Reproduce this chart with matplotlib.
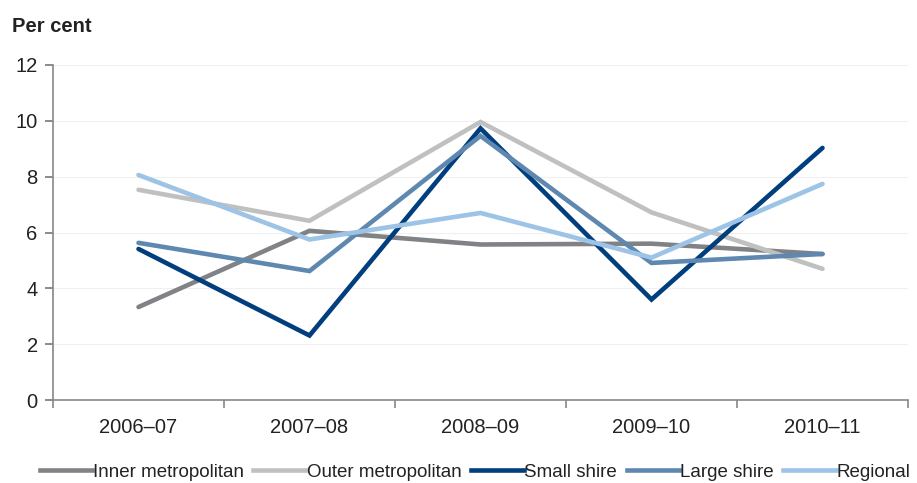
import matplotlib
matplotlib.use("Agg")
import matplotlib.pyplot as plt
from matplotlib.lines import Line2D
import numpy as np

plt.rcParams['font.family'] = ['Liberation Sans', 'DejaVu Sans']

years = ["2006–07", "2007–08", "2008–09", "2009–10", "2010–11"]
inner_metro = [3.33, 6.06, 5.57, 5.60, 5.23]
outer_metro = [7.53, 6.42, 9.96, 6.72, 4.70]
small_shire = [5.41, 2.31, 9.73, 3.60, 9.03]
large_shire = [5.63, 4.62, 9.46, 4.91, 5.23]
regional = [8.06, 5.75, 6.70, 5.10, 7.74]

series = [
    ("Inner metropolitan", inner_metro, "#808285"),
    ("Outer metropolitan", outer_metro, "#c0c0c0"),
    ("Small shire", small_shire, "#003e7e"),
    ("Large shire", large_shire, "#5f88b1"),
    ("Regional", regional, "#9dc3e6"),
]

fig = plt.figure(figsize=(9.17, 4.83), dpi=100)
ax = fig.add_axes([53/917, 1-400/483, (908-53)/917, (400-65)/483])

x = np.arange(len(years))
for name, vals, col in series:
    ax.plot(x, vals, color=col, lw=3.3, solid_capstyle='round', solid_joinstyle='miter', label=name)

ax.set_xlim(-0.5, len(years)-0.5)
ax.set_ylim(0, 12)
ax.set_yticks(range(0, 13, 2))
ax.tick_params(axis='y', labelsize=14.5, colors='#777777', labelcolor='#222222', length=6, width=1.2, pad=5)
ax.grid(axis='y', color='#f0f0f0', lw=0.8)
ax.set_axisbelow(True)

ax.set_xticks(x)
ax.set_xticklabels(years)
ax.set_xticks(np.arange(-0.5, len(years), 1), minor=True)
ax.tick_params(axis='x', which='major', length=0, labelsize=14.5, labelcolor='#222222', pad=13)
ax.tick_params(axis='x', which='minor', length=6, width=1.2, color='#888888', direction='out')

for s in ['top', 'right']:
    ax.spines[s].set_visible(False)
ax.spines['left'].set_color('#888888')
ax.spines['bottom'].set_color('#888888')
ax.spines['left'].set_linewidth(1.2)
ax.spines['bottom'].set_linewidth(1.2)

fig.text(12/917, 1-27/483, "Per cent", fontsize=14.5, fontweight='bold', color='#222222', va='center', ha='left')

handles = [Line2D([0], [0], color=c, lw=3.3) for _, _, c in series]
labels = [n for n, _, _ in series]
fig.legend(handles, labels, loc='center', bbox_to_anchor=(475/917, 1-472/483), ncol=5, frameon=False,
           fontsize=13.5, handlelength=2.8, handletextpad=0.05, columnspacing=0.5, labelcolor='#222222',
           borderaxespad=0, borderpad=0)

fig.savefig("out.png", dpi=100)
